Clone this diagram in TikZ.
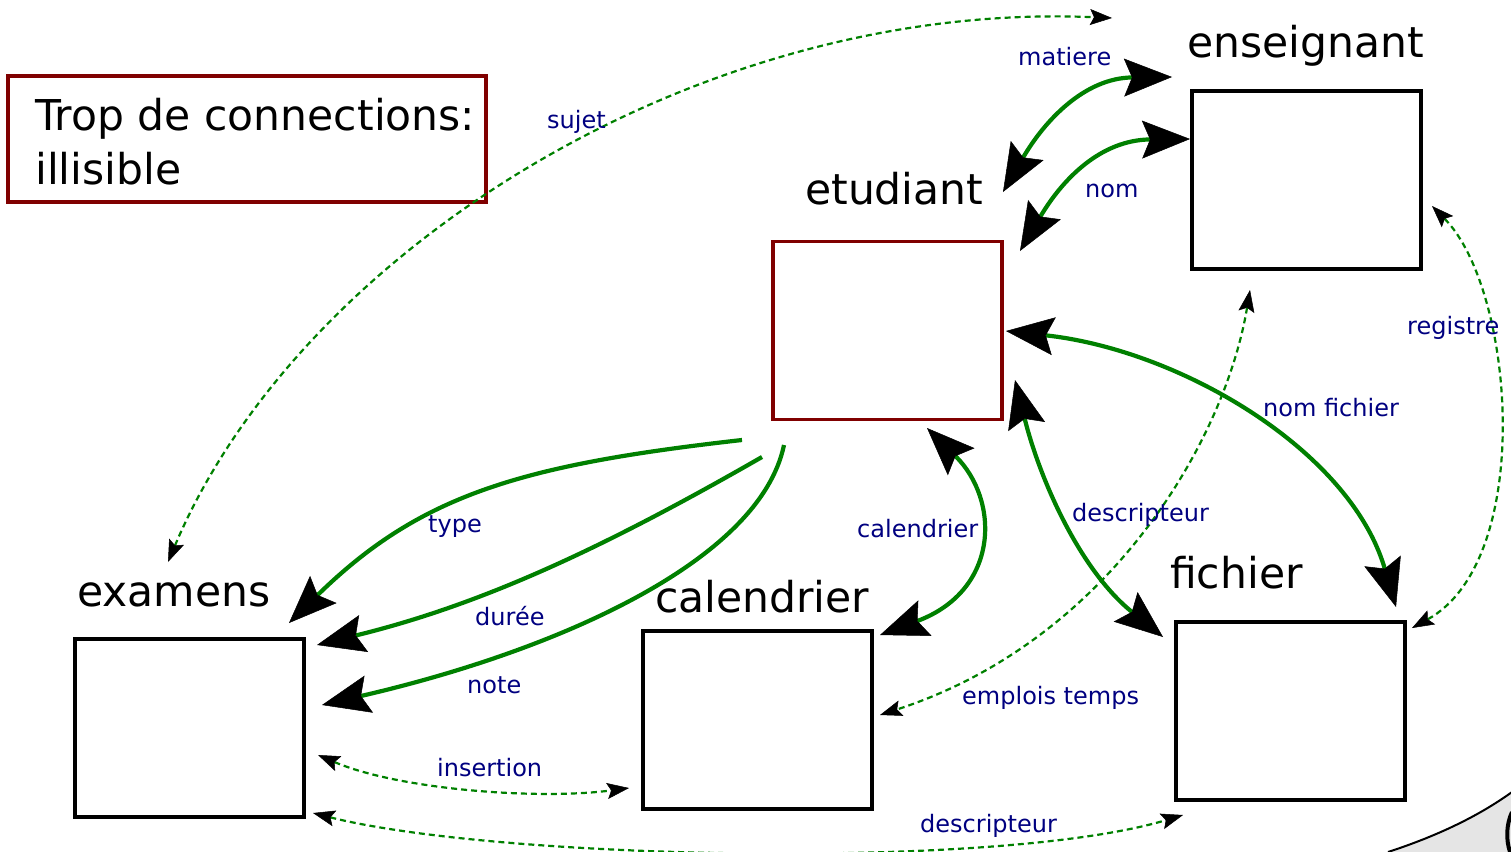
\documentclass[tikz,border=0pt]{standalone}
\usepackage{fontspec}
\setmainfont{DejaVu Sans}
\usetikzlibrary{arrows.meta}

\definecolor{linkgreen}{RGB}{0,128,0}
\definecolor{darkred}{RGB}{128,0,0}
\definecolor{labelblue}{RGB}{0,0,128}

\tikzset{
  bighead/.tip={Stealth[length=48pt,width=38pt,inset=8pt,line width=0.5pt,color=black,fill=black]},
  smallhead/.tip={Stealth[length=22pt,width=16pt,inset=4pt,line width=0.5pt,color=black,fill=black]},
  entity/.style={draw=black, line width=4pt, inner sep=0pt,
                 minimum width=229pt, minimum height=178pt},
  mainentity/.style={entity, draw=darkred, line width=3.5pt},
  title/.style={anchor=base west, inner sep=0pt, font=\fontsize{42.5}{50}\selectfont},
  lbl/.style={anchor=base west, inner sep=0pt, text=labelblue, font=\fontsize{24}{29}\selectfont},
  link/.style={draw=linkgreen, line width=4.2pt},
  weak/.style={draw=linkgreen, line width=2.2pt, dash pattern=on 6pt off 4pt},
}

\begin{document}
\begin{tikzpicture}[x=1pt,y=-1pt]
  \useasboundingbox (0,0) rectangle (1511,851);
  \clip (0,0) rectangle (1511,851);

  % note box
  \node[draw=darkred, line width=3.5pt, inner sep=0pt,
        minimum width=478pt, minimum height=126pt] (warn) at (247,139) {};
  \node[title] (warn1) at (35,130) {Trop de connections:};
  \node[title] (warn2) at (35,184) {illisible};

  % entities
  \node[entity]     (ens) at (1306.5,180)   {};
  \node[mainentity] (etu) at (887.5,330.5)  {};
  \node[entity]     (exa) at (189.5,728)    {};
  \node[entity]     (cal) at (757.5,720)    {};
  \node[entity]     (fic) at (1290.5,710.5) {};

  \node[title] (ensT) at (1187,57)  {enseignant};
  \node[title] (etuT) at (805,204)  {etudiant};
  \node[title] (exaT) at (77,606)   {examens};
  \node[title] (calT) at (655,612)  {calendrier};
  \node[title] (ficT) at (1170,588) {fichier};

  % connector end points
  \coordinate (ens-mat) at (1172,77);
  \coordinate (etu-mat) at (1003,192);
  \coordinate (ens-nom) at (1190,139);
  \coordinate (etu-nom) at (1020,251);
  \coordinate (etu-fn)  at (1006,331);
  \coordinate (fic-fn)  at (1396,607);
  \coordinate (etu-desc) at (1015,380);
  \coordinate (fic-desc) at (1163,637);
  \coordinate (etu-cal) at (927,428);
  \coordinate (cal-cal) at (880,635);
  \coordinate (etu-type) at (742,440);
  \coordinate (exa-type) at (289,623);
  \coordinate (etu-dur) at (762,457);
  \coordinate (exa-dur) at (317,645);
  \coordinate (etu-note) at (784,445);
  \coordinate (exa-note) at (322,705);
  \coordinate (exa-suj) at (168,562);
  \coordinate (ens-suj) at (1112,18);
  \coordinate (ens-reg) at (1432,206);
  \coordinate (fic-reg) at (1412,628);
  \coordinate (ens-emp) at (1250,290);
  \coordinate (cal-emp) at (880,715);
  \coordinate (exa-ins) at (318,755);
  \coordinate (cal-ins) at (629,788);
  \coordinate (exa-desc) at (313,813);
  \coordinate (fic-bdesc) at (1183,815);

  % strong links
  \draw[link, {bighead}-{bighead}] (etu-mat) .. controls (1045,120) and (1085,78) .. (ens-mat);
  \draw[link, {bighead}-{bighead}] (etu-nom) .. controls (1062,180) and (1100,140) .. (ens-nom);
  \draw[link, {bighead}-{bighead}] (etu-fn) .. controls (1180,350) and (1350,450) .. (fic-fn);
  \draw[link, {bighead}-{bighead}] (etu-desc) .. controls (1040,480) and (1080,570) .. (fic-desc);
  \draw[link, {bighead}-{bighead}] (etu-cal) .. controls (1000,500) and (1000,590) .. (cal-cal);
  \draw[link, -{bighead}] (etu-type) .. controls (520,465) and (420,495) .. (exa-type);
  \draw[link, -{bighead}] (etu-dur) .. controls (600,550) and (480,605) .. (exa-dur);
  \draw[link, -{bighead}] (etu-note) .. controls (760,560) and (560,650) .. (exa-note);

  % weak links
  \draw[weak, {smallhead}-{smallhead}] (exa-suj) .. controls (300,250) and (700,0) .. (ens-suj);
  \draw[weak, {smallhead}-{smallhead}] (ens-reg) .. controls (1515,290) and (1535,560) .. (fic-reg);
  \draw[weak, {smallhead}-{smallhead}] (ens-emp) .. controls (1225,440) and (1110,640) .. (cal-emp);
  \draw[weak, {smallhead}-{smallhead}] (exa-ins) .. controls (400,790) and (540,800) .. (cal-ins);
  \draw[weak, {smallhead}-{smallhead}] (exa-desc) .. controls (500,860) and (1000,870) .. (fic-bdesc);

  % link labels
  \node[lbl] (l-mat)  at (1018,65)  {matiere};
  \node[lbl] (l-suj)  at (547,128)  {sujet};
  \node[lbl] (l-nom)  at (1085,197) {nom};
  \node[lbl] (l-reg)  at (1407,334) {registre};
  \node[lbl] (l-fn)   at (1263,416) {nom fichier};
  \node[lbl] (l-type) at (428,532)  {type};
  \node[lbl] (l-cal)  at (857,537)  {calendrier};
  \node[lbl] (l-desc) at (1072,521) {descripteur};
  \node[lbl] (l-dur)  at (475,625)  {durée};
  \node[lbl] (l-note) at (467,693)  {note};
  \node[lbl] (l-emp)  at (962,704)  {emplois temps};
  \node[lbl] (l-ins)  at (437,776)  {insertion};
  \node[lbl] (l-bdesc) at (920,832) {descripteur};

  % corner shape
  \fill[black!10] (1388,852) .. controls (1440,835) and (1480,815) .. (1512,792) -- (1512,852) -- cycle;
  \draw[line width=2pt] (1388,852) .. controls (1440,835) and (1480,815) .. (1512,792);
  \draw[line width=4pt] (1512,812) .. controls (1506,825) and (1506,840) .. (1510,852);
\end{tikzpicture}
\end{document}
